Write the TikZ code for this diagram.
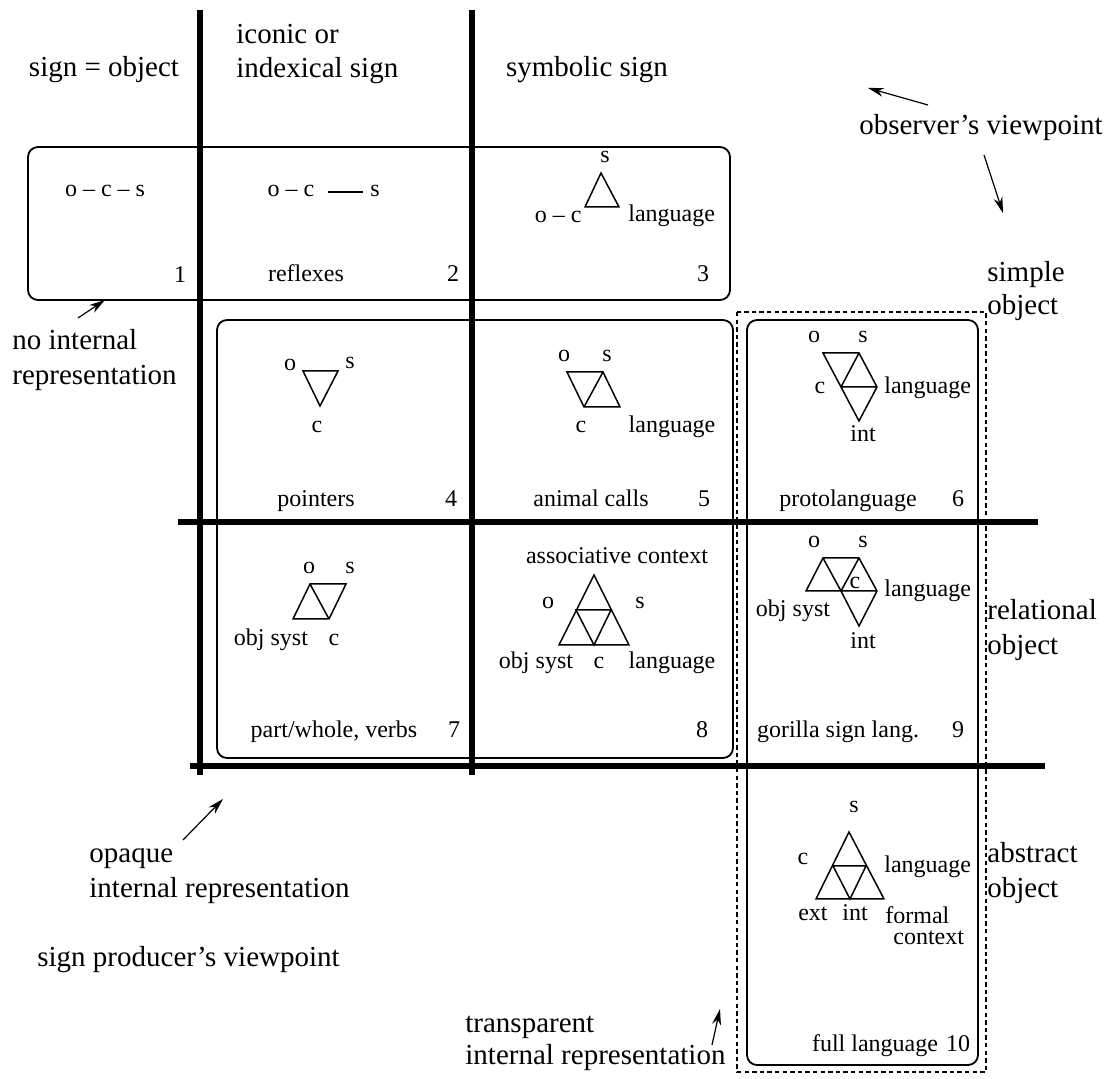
\documentclass[tikz,border=0pt]{standalone}
\usepackage{fontspec}
\setmainfont{Liberation Serif}
\usetikzlibrary{arrows.meta}
\begin{document}
\begin{tikzpicture}[x=0.5pt,y=-0.5pt,
  big/.style={font=\fontsize{14.5}{17}\selectfont, inner sep=0pt, anchor=mid},
  sml/.style={font=\fontsize{12}{14}\selectfont, inner sep=0pt, anchor=mid},
  bigl/.style={big, anchor=mid west},
  thickline/.style={line width=3pt},
  cellbox/.style={line width=0.9pt, rounded corners=5pt},
  tri/.style={line width=0.75pt, line join=miter},
  arr/.style={line width=0.6pt, -{Stealth[length=8pt,width=4.5pt]}},
]
\path[use as bounding box] (0,0) rectangle (1116,1079);

% grid lines
\draw[thickline] (200,10) -- (200,775);
\draw[thickline] (472,10) -- (472,775);
\draw[thickline] (178,522) -- (1038,522);
\draw[thickline] (190,766) -- (1045,766);

% boxes
\draw[cellbox] (28,147) rectangle (730,300);
\draw[cellbox] (217,320) rectangle (733,758);
\draw[cellbox] (747,320) rectangle (978,1065);
\draw[line width=0.8pt, dash pattern=on 2.2pt off 1.6pt] (737,312) rectangle (986,1072);

% header labels
\node[big] (hso) at (104,72) {sign = object};
\node[bigl] (hic1) at (236,39) {iconic or};
\node[bigl] (hic2) at (236,73) {indexical sign};
\node[big] (hsy) at (587,72) {symbolic sign};
\node[big] (hobs) at (981,130) {observer’s viewpoint};
\node[bigl] (rs1) at (987,277) {simple};
\node[bigl] (rs2) at (987,310) {object};
\node[bigl] (rr1) at (987,615) {relational};
\node[bigl] (rr2) at (987,650) {object};
\node[bigl] (ra1) at (987,858) {abstract};
\node[bigl] (ra2) at (987,893) {object};
\node[bigl] (ni1) at (12,345) {no internal};
\node[bigl] (ni2) at (12,380) {representation};
\node[bigl] (op1) at (89,858) {opaque};
\node[bigl] (op2) at (89,893) {internal representation};
\node[bigl] (spv) at (37,962) {sign producer’s viewpoint};
\node[bigl] (tr1) at (465,1028) {transparent};
\node[bigl] (tr2) at (465,1060) {internal representation};

% arrows
\coordinate (a1s) at (928,105); \coordinate (a1e) at (868,88);
\coordinate (a2s) at (984,155); \coordinate (a2e) at (1003,213);
\coordinate (a3s) at (78,318);  \coordinate (a3e) at (105,300);
\coordinate (a4s) at (183,840); \coordinate (a4e) at (223,799);
\coordinate (a5s) at (712,1045); \coordinate (a5e) at (720,1009);
\draw[arr] (a1s) -- (a1e);
\draw[arr] (a2s) -- (a2e);
\draw[arr] (a3s) -- (a3e);
\draw[arr] (a4s) -- (a4e);
\draw[arr] (a5s) -- (a5e);

% cell 1
\node[sml] (c1t) at (105,192) {o – c – s};
\node[sml] (c1n) at (180,278) {1};
% cell 2
\node[sml] (c2a) at (291,192) {o – c};
\node[sml] (c2s) at (375,192) {s};
\draw[line width=0.7pt, shorten <=6.5pt, shorten >=3.5pt] (c2a.mid east) -- (c2s.mid west);
\node[sml] (c2l) at (306,277) {reflexes};
\node[sml] (c2n) at (453,277) {2};
% cell 3
\draw[tri] (601,173) -- (585,207) -- (619,207) -- cycle;
\node[sml] (c3s) at (605,158) {s};
\node[sml, anchor=mid east] (c3o) at (582,218) {o – c};
\node[sml, anchor=mid west] (c3l) at (628,217) {language};
\node[sml] (c3n) at (703,277) {3};
% cell 4
\draw[tri] (303,371) -- (338,371) -- (320,406) -- cycle;
\node[sml] (c4o) at (290,366) {o};
\node[sml] (c4s) at (350,364) {s};
\node[sml] (c4c) at (317,428) {c};
\node[sml] (c4l) at (316,502) {pointers};
\node[sml] (c4n) at (451,502) {4};
% cell 5
\draw[tri] (567,372) -- (603,372) -- (620,407) -- (584,407) -- cycle (584,407) -- (603,372);
\node[sml] (c5o) at (564,357) {o};
\node[sml] (c5s) at (607,357) {s};
\node[sml] (c5c) at (581,428) {c};
\node[sml] (c5g) at (672,428) {language};
\node[sml] (c5l) at (591,502) {animal calls};
\node[sml] (c5n) at (704,502) {5};
% cell 6
\draw[tri] (823,353) -- (859,353) -- (877,387) -- (859,421) -- (841,387) -- cycle
  (841,387) -- (859,353) (841,387) -- (877,387);
\node[sml] (c6o) at (814,338) {o};
\node[sml] (c6s) at (863,338) {s};
\node[sml] (c6c) at (820,389) {c};
\node[sml, anchor=mid west] (c6g) at (884,389) {language};
\node[sml] (c6i) at (863,437) {int};
\node[sml] (c6l) at (848,502) {protolanguage};
\node[sml] (c6n) at (958,502) {6};
% cell 7
\draw[tri] (310,584) -- (346,584) -- (329,619) -- (293,619) -- cycle (310,584) -- (329,619);
\node[sml] (c7o) at (309,569) {o};
\node[sml] (c7s) at (350,569) {s};
\node[sml] (c7y) at (271,641) {obj syst};
\node[sml] (c7c) at (334,641) {c};
\node[sml] (c7l) at (334,733) {part/whole, verbs};
\node[sml] (c7n) at (454,733) {7};
% cell 8
\draw[tri] (594,575) -- (629,645) -- (559,645) -- cycle (576,610) -- (611,610) -- (594,645) -- cycle;
\node[sml] (c8a) at (617,559) {associative context};
\node[sml] (c8o) at (548,604) {o};
\node[sml] (c8s) at (640,604) {s};
\node[sml] (c8y) at (536,664) {obj syst};
\node[sml] (c8c) at (599,664) {c};
\node[sml] (c8g) at (672,664) {language};
\node[sml] (c8n) at (702,733) {8};
% cell 9
\draw[tri] (806,591) -- (823,558) -- (859,558) -- (877,591) -- (859,626) -- (841,591) -- cycle
  (823,558) -- (841,591) -- (859,558) (806,591) -- (877,591);
\node[sml] (c9o) at (814,543) {o};
\node[sml] (c9s) at (863,543) {s};
\node[sml] (c9c) at (855,584) {c};
\node[sml, anchor=mid west] (c9g) at (884,592) {language};
\node[sml] (c9y) at (793,612) {obj syst};
\node[sml] (c9i) at (863,644) {int};
\node[sml] (c9l) at (838,733) {gorilla sign lang.};
\node[sml] (c9n) at (958,733) {9};
% cell 10
\draw[tri] (849,832) -- (884,899) -- (816,899) -- cycle (833,866) -- (866,866) -- (850,899) -- cycle;
\node[sml] (c10s) at (854,808) {s};
\node[sml] (c10c) at (803,860) {c};
\node[sml, anchor=mid west] (c10g) at (884,868) {language};
\node[sml] (c10e) at (813,916) {ext};
\node[sml] (c10i) at (855,916) {int};
\node[font=\fontsize{12}{10.5}\selectfont, inner sep=0pt, align=left, anchor=north west] (c10f) at (885,906) {formal\\\hspace*{4pt}context};
\node[sml] (c10l) at (875,1047) {full language};
\node[sml] (c10n) at (958,1047) {10};
\end{tikzpicture}
\end{document}
